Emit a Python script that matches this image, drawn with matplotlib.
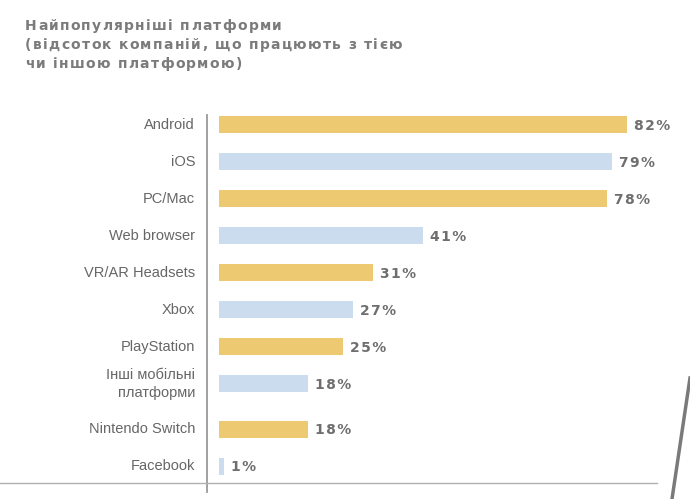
import matplotlib
matplotlib.use("Agg")
import matplotlib.pyplot as plt
from matplotlib.lines import Line2D
import numpy as np

categories = ["Android", "iOS", "PC/Mac", "Web browser", "VR/AR Headsets", "Xbox",
              "PlayStation", "Інші мобільні\nплатформи", "Nintendo Switch", "Facebook"]
values = [82, 79, 78, 41, 31, 27, 25, 18, 18, 1]
title_lines = ["Найпопулярніші платформи",
               "(відсоток компаній, що працюють з тією",
               "чи іншою платформою)"]

gold = "#EDCA72"
blue = "#CADCEE"
colors = [gold if i % 2 == 0 else blue for i in range(len(values))]

HS = "\u200a"


def spaced(s):
    return HS.join(s)


W, H = 690, 499
fig = plt.figure(figsize=(W / 100, H / 100), dpi=100)
fig.patch.set_facecolor("white")
renderer = fig.canvas.get_renderer()

ax = fig.add_axes([207 / W, 1 - 492 / H, 1 - 207 / W, (492 - 115) / H])
n = len(values)
pos = np.arange(n) + np.where(np.arange(n) >= 8, 0.22, 0.0)

px_per = 4.97
x0 = -12 / px_per
ax.barh(pos, values, height=0.46, color=colors, left=0)
ax.set_xlim(x0, x0 + (W - 207) / px_per)
ax.set_ylim(9.92, -0.27)
ax.axis("off")

for p, v, c in zip(pos, values, categories):
    ax.text(v + 7 / px_per, p + 0.02, spaced(f"{v}%"), va="center", ha="left",
            fontsize=10, fontweight="bold", color="#6e6e6e", family="DejaVu Sans")
    ax.text(x0 - 12 / px_per, p, c, va="center", ha="right", fontsize=10.5,
            color="#666666", family="Liberation Sans", linespacing=1.3)

# vertical axis line
fig.add_artist(Line2D([207 / W, 207 / W], [1 - 115 / H, 1 - 492 / H],
                      color="#9a9a9a", lw=1.3))
# bottom horizontal line
fig.add_artist(Line2D([0, 657 / W], [1 - 483 / H, 1 - 483 / H],
                      color="#b0b0b0", lw=1.0))
# decorative diagonal line
fig.add_artist(Line2D([690 / W, 672 / W], [1 - 378 / H, 0], color="#7a7a7a", lw=2.5))

# title with letter tracking, drawn char by char
tracking = 1.3  # px
baselines = [30, 49, 68]
for line, yb in zip(title_lines, baselines):
    x = 25.0
    for ch in line:
        t = fig.text(x / W, 1 - yb / H, ch, ha="left", va="baseline", fontsize=10,
                     fontweight="bold", color="#7b7b7b", family="DejaVu Sans")
        if ch == " ":
            t2 = fig.text(0, 0, "a a", fontsize=10, fontweight="bold", family="DejaVu Sans")
            t3 = fig.text(0, 0, "aa", fontsize=10, fontweight="bold", family="DejaVu Sans")
            w = t2.get_window_extent(renderer).width - t3.get_window_extent(renderer).width
            t2.remove(); t3.remove()
        else:
            w = t.get_window_extent(renderer).width
        x += w + tracking

fig.savefig("out.png", dpi=100)
